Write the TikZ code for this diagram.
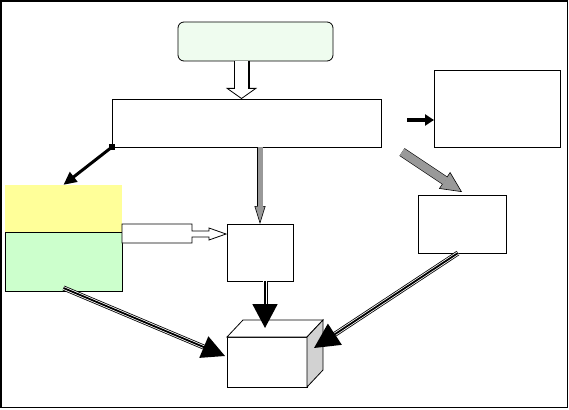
\documentclass[tikz,border=0pt]{standalone}
\usetikzlibrary{calc, arrows.meta}
\definecolor{boxyellow}{HTML}{FFFF99}
\definecolor{boxgreen}{HTML}{CCFFCC}
\definecolor{palegreen}{HTML}{EFFCEF}
\tikzset{
 box/.style={draw, line width=0.8pt, inner sep=0pt, outer sep=0pt},
 hollowarrow/.style={draw=white, line width=13.6pt, shorten >=10pt,
  preaction={draw=black, line width=16pt, shorten >=0pt,
   -{Triangle[length=11pt, width=31pt, line width=0.8pt, fill=white]}}},
 grayarrow/.style n args={3}{draw=gray!80, line width=#1, shorten >=#2-1pt,
  preaction={draw=black, line width=#1+1.2pt, shorten >=0pt,
   -{Triangle[length=#2, width=#3, line width=0.6pt, fill=gray!80]}}},
 blackarrow/.style n args={3}{line width=#1, -{Triangle[length=#2, width=#3]}},
 triplearrow/.style 2 args={line width=1.8pt, -{Triangle[length=#1, width=#2]},
  preaction={draw, -, double, line width=0.8pt, double distance=3.4pt, shorten >=#1-4pt}},
}
\begin{document}
\begin{tikzpicture}[x=1pt, y=-1pt]
 \useasboundingbox (0,0) rectangle (569,409);
 \draw[line width=1.2pt] (1,1) rectangle (567.6,407.6);

 % 箱
 \node[box, rounded corners=6pt, fill=palegreen, minimum width=155pt, minimum height=39pt] (goal) at (255.5,41.5) {};
 \node[box, minimum width=269pt, minimum height=48pt] (plan) at (246.5,123) {};
 \node[fill=boxyellow, inner sep=0pt, minimum width=117pt, minimum height=47pt] (yel) at (63.5,208.5) {};
 \node[box, fill=boxgreen, minimum width=117pt, minimum height=59pt] (grn) at (63.5,261.5) {};
 \node[box, minimum width=66pt, minimum height=57pt] (mid) at (260,252.5) {};
 \node[box, minimum width=126pt, minimum height=77pt] (info) at (497,108.5) {};
 \node[box, minimum width=88pt, minimum height=58pt] (side) at (462,224) {};
 \node[box, fill=white, minimum width=80pt, minimum height=50pt] (cube) at (267,362) {};
 \draw[line width=0.8pt, fill=white] (cube.north west) -- ++(16,-17) -- ++(80,0) -- (cube.north east) -- cycle;
 \draw[line width=0.8pt, fill=gray!35] (cube.north east) -- ++(16,-17) -- ++(0,50) -- (cube.south east) -- cycle;

 % 矢印
 \draw[hollowarrow] ([xshift=-14pt]goal.south) -- ([xshift=-5pt]plan.north);
 \draw[line width=0.8pt, fill=white] (grn.north east) ++(0,-8) -- ++(70,0) -- ++(0,7) -- ++(17,0) -- ++(0,-3)
  -- ($(mid.west)+(-1,-18.5)$) -- ++(-17,6) -- ++(0,-3) -- ++(-17,0) -- ++(0,6) -- ++(-70,0) -- cycle;
 \draw[blackarrow={3pt}{13pt}{12pt}] (plan.south west) -- (yel.north);
 \fill (plan.south west) ++(-3,-3) rectangle ++(6,6);
 \draw[grayarrow={5pt}{18pt}{11pt}] (plan.south -| mid.north) -- (mid.north);
 \coordinate (infoin) at ([yshift=-11.5pt]info.west);
 \draw[blackarrow={4pt}{9pt}{11pt}] ([xshift=-27pt]infoin) -- (infoin);
 \draw[grayarrow={8pt}{21pt}{20pt}] ([shift={(21pt,-5pt)}]plan.south east) -- ([yshift=3pt]side.north);

 \draw[triplearrow={24pt}{25pt}] ([xshift=5pt]mid.south) -- ([shift={(-2pt,9pt)}]cube.north);
 \draw[triplearrow={23pt}{23pt}] ([yshift=3pt]grn.south) -- ([shift={(-2pt,6pt)}]cube.west);
 \draw[triplearrow={25pt}{25pt}] ([xshift=-4pt]side.south) -- ([shift={(7pt,14pt)}]cube.east);
\end{tikzpicture}
\end{document}
